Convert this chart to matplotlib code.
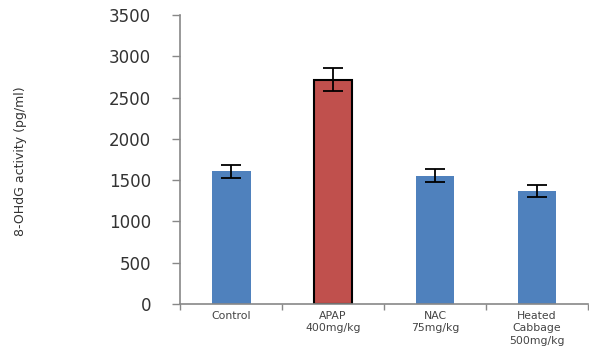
import matplotlib.pyplot as plt

groups = ["Control", "APAP\n400mg/kg", "NAC\n75mg/kg", "Heated\nCabbage\n500mg/kg"]
activity = [1610, 2720, 1555, 1372]
sem = [80, 135, 82, 72]
colors = ["#4F81BD", "#C0504D", "#4F81BD", "#4F81BD"]
edges = ["none", "black", "none", "none"]

fig = plt.figure(figsize=(5.89, 3.53), dpi=100)
ax = fig.add_axes([0.306, 0.139, 0.692, 0.818])

x = range(len(groups))
ax.bar(x, activity, width=0.38, color=colors, edgecolor=edges, linewidth=1.5)
ax.errorbar(x, activity, yerr=sem, fmt="none", ecolor="black",
            elinewidth=1.3, capsize=7, capthick=1.3)

ax.set_xlim(-0.5, 3.5)
ax.set_ylim(0, 3500)
ax.set_yticks(range(0, 3501, 500))
ax.tick_params(axis="y", labelsize=12, colors="#888888", labelcolor="#333333",
               length=6, width=1, pad=15)

ax.set_xticks(list(x))
ax.set_xticklabels(groups, fontsize=7.8, color="#444444", linespacing=1.3)
ax.tick_params(axis="x", length=0, pad=5)
ax.set_xticks([-0.5, 0.5, 1.5, 2.5, 3.5], minor=True)
ax.tick_params(axis="x", which="minor", length=4, width=1, color="#888888")

for side in ("top", "right"):
    ax.spines[side].set_visible(False)
for side in ("left", "bottom"):
    ax.spines[side].set_color("#888888")
    ax.spines[side].set_linewidth(1.2)

ax.set_ylabel("8-OHdG activity (pg/ml)", fontsize=9, color="#333333")
ax.yaxis.set_label_coords(-0.375, 0.493)

fig.savefig("out.png", dpi=100)
